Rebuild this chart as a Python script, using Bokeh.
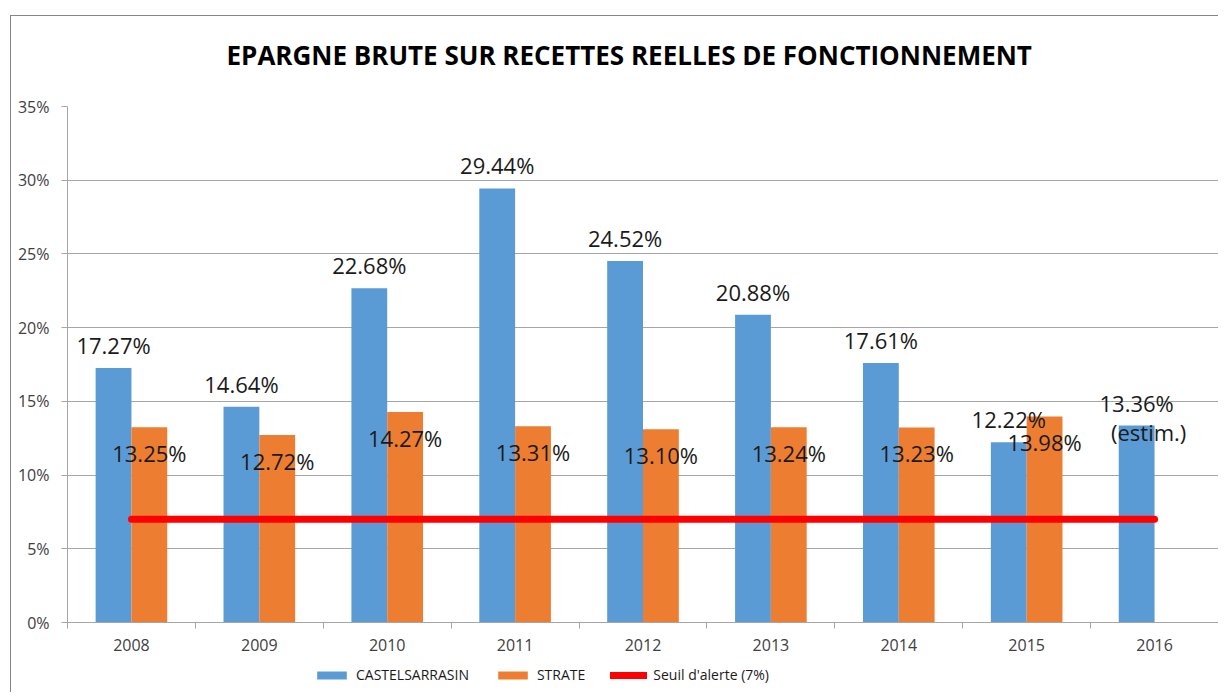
from bokeh.plotting import figure
from bokeh.layouts import column
from bokeh.models import (ColumnDataSource, FixedTicker, PrintfTickFormatter,
                          Legend, LegendItem, Label)
from bokeh.core.properties import value
from bokeh.embed import file_html
from bokeh.resources import INLINE

# ---- data ----
years = ["2008", "2009", "2010", "2011", "2012", "2013", "2014", "2015", "2016"]
castelsarrasin = [17.27, 14.64, 22.68, 29.44, 24.52, 20.88, 17.61, 12.22, 13.36]
strate = [13.25, 12.72, 14.27, 13.31, 13.10, 13.24, 13.23, 13.98]  # no 2016 value
seuil = 7.0
y_ticks = [0, 5, 10, 15, 20, 25, 30, 35]
title_text = "EPARGNE BRUTE SUR RECETTES REELLES DE FONCTIONNEMENT"
estim_note = "(estim.)"
series_names = ["CASTELSARRASIN", "STRATE", "Seuil d'alerte (7%)"]

FONT = "Open Sans"
BLUE = "#5B9BD5"
ORANGE = "#ED7D31"
RED = "#FF0000"
GRID = "#a6a6a6"

idx = list(range(len(years)))
bw = 0.28
blue_x = [i + 0.5 - bw / 2 for i in idx]
orange_x = [i + 0.5 + bw / 2 for i in range(len(strate))]

src_b = ColumnDataSource(dict(x=blue_x, top=castelsarrasin,
                              lab=[f"{v:.2f}%" for v in castelsarrasin]))
src_o = ColumnDataSource(dict(x=orange_x, top=strate,
                              lab=[f"{v:.2f}%" for v in strate]))

W = 1218
p = figure(width=W, height=662, x_range=(0, len(years)), y_range=(0, 35),
           output_backend="svg", toolbar_location=None,
           min_border_left=67, min_border_right=0, min_border_top=106,
           min_border_bottom=40)
p.outline_line_color = None
p.background_fill_color = "white"
p.border_fill_alpha = 0

rb = p.vbar(x="x", top="top", width=bw, source=src_b, fill_color=BLUE, line_color=None)
ro = p.vbar(x="x", top="top", width=bw, source=src_o, fill_color=ORANGE, line_color=None)
rl = p.line(x=[idx[0] + 0.5, idx[-1] + 0.5], y=[seuil, seuil], line_color=RED,
            line_width=7, line_cap="round")

p.text(x="x", y="top", text="lab", source=src_b, text_align="center",
       text_baseline="middle", y_offset=-23, text_font=value(FONT),
       text_font_size="22px", text_color="#1a1a1a")
p.text(x="x", y="top", text="lab", source=src_o, text_align="center",
       text_baseline="middle", y_offset=26, text_font=value(FONT),
       text_font_size="22px", text_color="#1a1a1a")
p.add_layout(Label(x=blue_x[-1], y=castelsarrasin[-1], text=estim_note,
                   x_offset=12, y_offset=-6, text_align="center",
                   text_baseline="middle", text_font=FONT,
                   text_font_size="22px", text_color="#1a1a1a"))

# axes
p.xaxis.ticker = FixedTicker(ticks=[i + 0.5 for i in idx], minor_ticks=idx + [len(years)])
p.xaxis.major_label_overrides = {i + 0.5: y for i, y in zip(idx, years)}
p.xaxis.major_tick_line_color = None
p.xaxis.minor_tick_in = 0
p.xaxis.minor_tick_out = 6
p.xaxis.minor_tick_line_color = GRID
p.xaxis.axis_line_color = GRID
p.xaxis.major_label_text_font = FONT
p.xaxis.major_label_text_font_size = "16px"
p.xaxis.major_label_text_color = "#404040"
p.xaxis.major_label_standoff = 10

p.yaxis.ticker = FixedTicker(ticks=y_ticks, minor_ticks=[])
p.yaxis.formatter = PrintfTickFormatter(format="%d%%")
p.yaxis.major_tick_in = 0
p.yaxis.major_tick_out = 6
p.yaxis.major_tick_line_color = GRID
p.yaxis.axis_line_color = GRID
p.yaxis.major_label_text_font = FONT
p.yaxis.major_label_text_font_size = "16px"
p.yaxis.major_label_text_color = "#404040"
p.yaxis.major_label_standoff = 12

p.xgrid.grid_line_color = None
p.ygrid.grid_line_color = GRID
p.ygrid.grid_line_width = 1

# title
p.title.text = title_text
p.title.align = "left"
p.title.offset = 159
p.title.standoff = 67
p.title.text_font = FONT
p.title.text_font_style = "bold"
p.title.text_font_size = "26px"
p.title.text_color = "#000000"

# legend strip below the chart (proxy glyphs sit outside the visible range)
q = figure(width=W, height=30, x_range=(0, 1), y_range=(0, 1),
           output_backend="svg", toolbar_location=None,
           x_axis_location=None, y_axis_location=None,
           min_border_left=67, min_border_right=0, min_border_top=0, min_border_bottom=0)
q.outline_line_color = None
q.grid.visible = False
q.background_fill_color = None
q.border_fill_color = None
lb = q.vbar(x=[5], top=[1], width=0.1, fill_color=BLUE, line_color=None)
lo = q.vbar(x=[5], top=[1], width=0.1, fill_color=ORANGE, line_color=None)
ll = q.line(x=[5, 6], y=[0.5, 0.5], line_color=RED, line_width=7, line_cap="round")

legend = Legend(items=[LegendItem(label=series_names[0], renderers=[lb]),
                       LegendItem(label=series_names[1], renderers=[lo]),
                       LegendItem(label=series_names[2], renderers=[ll])],
                orientation="horizontal", location=(246, 8),
                glyph_width=37, glyph_height=10, label_standoff=6, spacing=25,
                padding=0, margin=0, border_line_color=None,
                background_fill_alpha=0, label_text_font=FONT,
                label_text_font_size="14px", label_text_color="#1a1a1a")
q.add_layout(legend, "center")

layout = column(p, q, spacing=0)
layout.styles = {"box-shadow": "inset 10px 0 0 0 #ffffff, inset 0 15px 0 0 #ffffff, "
                               "inset 11px 0 0 0 #868686, inset 0 16px 0 0 #868686"}

open("out.html", "w").write(file_html(layout, INLINE))
